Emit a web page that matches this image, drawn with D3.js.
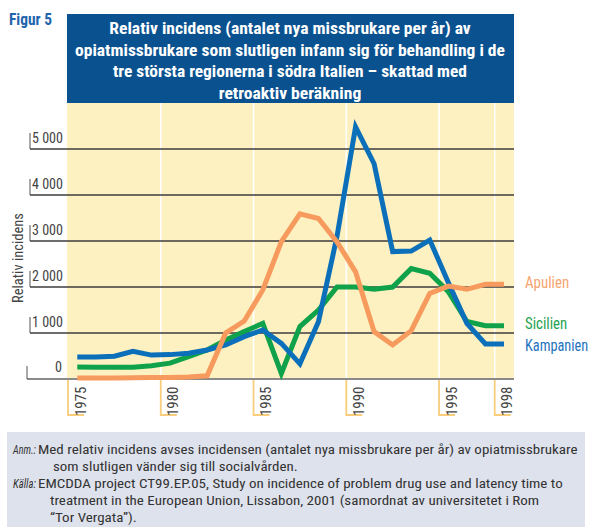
<!DOCTYPE html>
<html><head><meta charset="utf-8">
<script src="https://cdn.jsdelivr.net/npm/d3@7"></script>
<style>
body{margin:0;background:#fff}
svg{display:block}
text{font-family:"Liberation Sans Narrow","Arial Narrow","Roboto Condensed","Liberation Sans",sans-serif}
</style>
</head><body><svg id="c" width="592" height="531"></svg>
<script>
// ---------- data ----------
const years = [1975,1976,1977,1978,1979,1980,1981,1982,1983,1984,1985,1986,1987,1988,1989,1990,1991,1992,1993,1994,1995,1996,1997,1998];
const apulien   = [20,20,20,25,30,35,45,70,1000,1260,1935,2985,3590,3490,2980,2330,1030,740,1050,1860,2020,1950,2060,2060];
const sicilien  = [260,255,255,255,290,345,485,630,850,1030,1210,120,1140,1500,2000,2000,1950,2000,2400,2300,1900,1250,1160,1160];
const kampanien = [480,480,495,600,520,530,560,630,740,920,1065,775,330,1246,3100,5480,4680,2770,2780,3020,2100,1210,761,761];
const seriesNames = ["Apulien","Sicilien","Kampanien"];
const yTicks = [0,1000,2000,3000,4000,5000];
const yTickLabels = ["0","1 000","2 000","3 000","4 000","5 000"];
const xTicks = [1975,1980,1985,1990,1995,1998];
const figLabel = "Figur 5";
const titleLines = [
  "Relativ incidens (antalet nya missbrukare per år) av",
  "opiatmissbrukare som slutligen infann sig för behandling i de",
  "tre största regionerna i södra Italien – skattad med",
  "retroaktiv beräkning"
];
const yAxisTitle = "Relativ incidens";
const noteLabels = ["Anm.:","Källa:"];
const noteLines = [
  "Med relativ incidens avses incidensen (antalet nya missbrukare per år) av opiatmissbrukare",
  "som slutligen vänder sig till socialvården.",
  "EMCDDA project CT99.EP.05, Study on incidence of problem drug use and latency time to",
  "treatment in the European Union, Lissabon, 2001 (samordnat av universitetet i Rom",
  "\u201CTor Vergata\u201D)."
];

// ---------- drawing ----------
const svg = d3.select("#c");
const x = d3.scaleLinear().domain([1975,1998]).range([68,494.7]);
const y = d3.scaleLinear().domain([0,5000]).range([379,149]);
const plotL = 67, plotR = 514, plotT = 103;

// place text at (px,py) horizontally scaled so that its width is w (or scaled by factor f)
function placeText(parent, str, px, py, opts){
  const t = parent.append("text").attr("x",0).attr("y",0).text(str);
  Object.entries(opts.attrs||{}).forEach(([k,v])=>t.attr(k,v));
  const w0 = t.node().getComputedTextLength();
  const s = opts.w ? opts.w/w0 : (opts.f||1);
  const rot = opts.rotate ? ` rotate(${opts.rotate})` : "";
  t.attr("transform",`translate(${px},${py})${rot} scale(${s},1)`);
  return t;
}

// Figure label
placeText(svg, figLabel, 9, 25, {w:43, attrs:{"font-size":16,"font-weight":"bold","fill":"#1f64ad"}});

// Title box
svg.append("rect").attr("x",plotL).attr("y",14).attr("width",plotR-plotL).attr("height",plotT-14).attr("fill","#0a528f");
const titleW = [361.7,430,354,142.6];
titleLines.forEach((t,i)=>{
  placeText(svg, t, 290, 34.3+i*21.4, {w:titleW[i], attrs:{"text-anchor":"middle","font-size":16,"font-weight":"bold","fill":"#fff"}});
});

// Plot background
svg.append("rect").attr("x",plotL).attr("y",plotT).attr("width",plotR-plotL).attr("height",y(0)-plotT).attr("fill","#fdf0c1");

// White vertical lines
svg.append("g").selectAll("line").data(xTicks.slice(1)).join("line")
  .attr("x1",d=>x(d)).attr("x2",d=>x(d)).attr("y1",plotT).attr("y2",y(0))
  .attr("stroke","#fff").attr("stroke-width",1.6);

// Horizontal gridlines + y labels
const gy = svg.append("g");
yTicks.forEach((t,i)=>{
  const yy = y(t);
  if(t===0){
    gy.append("line").attr("x1",27).attr("x2",plotR).attr("y1",yy).attr("y2",yy).attr("stroke","#8a8a8a").attr("stroke-width",2);
    gy.append("line").attr("x1",27).attr("x2",27).attr("y1",yy-13).attr("y2",yy).attr("stroke","#555").attr("stroke-width",1);
    placeText(gy, yTickLabels[i], 55, yy-7, {w:7, attrs:{"font-size":14.5,"fill":"#444"}});
  } else {
    gy.append("line").attr("x1",30).attr("x2",plotR).attr("y1",yy).attr("y2",yy).attr("stroke","#3d3d3d").attr("stroke-width",1.3);
    gy.append("line").attr("x1",30).attr("x2",30).attr("y1",yy-16).attr("y2",yy).attr("stroke","#555").attr("stroke-width",1);
    placeText(gy, yTickLabels[i], 32, yy-6, {w:31, attrs:{"font-size":14.5,"fill":"#444"}});
  }
});

// Y axis title
placeText(svg, yAxisTitle, 23, 258, {w:90, rotate:-90, attrs:{"text-anchor":"middle","font-size":15,"fill":"#444"}});

// X ticks
const gx = svg.append("g");
xTicks.forEach(t=>{
  const xx = x(t);
  gx.append("path").attr("d",`M${xx},${y(0)+1}V415H${xx+16}`).attr("fill","none").attr("stroke","#f9cd7b").attr("stroke-width",1.8);
  placeText(gx, String(t), xx+17.5, 416, {w:29.5, rotate:-90, attrs:{"font-size":15,"fill":"#444"}});
});

// Lines
const line = d3.line().x((d,i)=>x(years[i]+0.5)).y(d=>y(d));
const seriesData = [sicilien, kampanien, apulien];
const seriesCol = ["#0fa24b","#0b6fba","#f79a5e"];
seriesData.forEach((s,i)=>{
  svg.append("path").datum(s).attr("d",line).attr("fill","none").attr("stroke",seriesCol[i])
    .attr("stroke-width",5).attr("stroke-linejoin","miter").attr("stroke-linecap","butt");
});

// Legend
const legY = [288.3,329,350.7];
const legW = [44.3,42.3,63.3];
const legCol = ["#f5a570","#1fa352","#1f74c0"];
seriesNames.forEach((n,i)=>{
  placeText(svg, n, 525, legY[i], {w:legW[i], attrs:{"font-size":16,"fill":legCol[i]}});
});

// Footnote box
svg.append("rect").attr("x",7).attr("y",432).attr("width",578).attr("height",95).attr("fill","#dee2ed");
const noteX = [38,53,38,50,50];
const noteY = [453.5,470.5,487.5,504.5,521.5];
const probe = svg.append("text").attr("font-size",13.5).text(noteLines[0]);
const k = 540/probe.node().getComputedTextLength();
probe.remove();
noteLines.forEach((t,i)=>placeText(svg, t, noteX[i], noteY[i], {f:k, attrs:{"font-size":13.5,"fill":"#333"}}));
placeText(svg, noteLabels[0], 13, 453.5, {w:23, attrs:{"font-size":13.5,"font-style":"italic","fill":"#333"}});
placeText(svg, noteLabels[1], 13, 487.5, {w:23, attrs:{"font-size":13.5,"font-style":"italic","fill":"#333"}});
</script>
</body></html>
